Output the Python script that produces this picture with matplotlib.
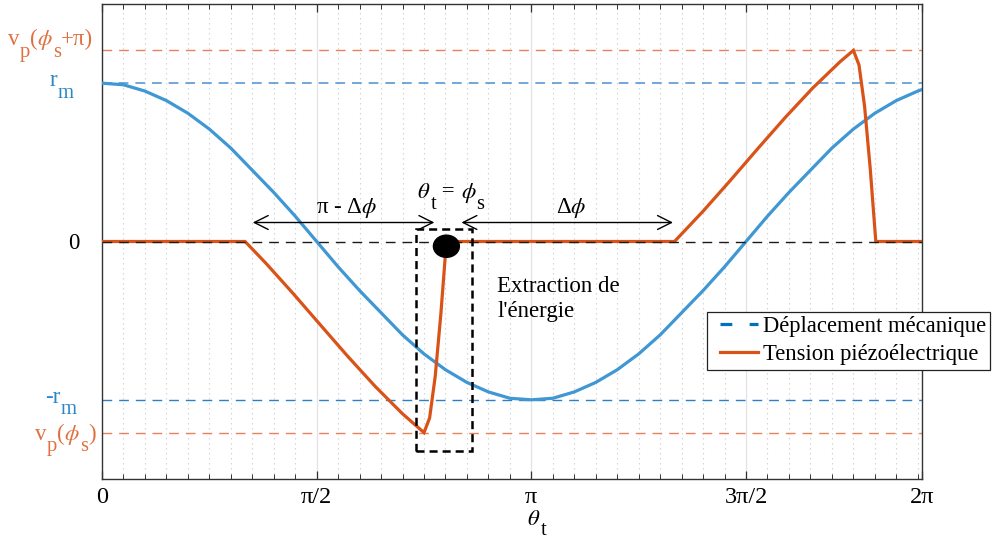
import numpy as np
import matplotlib
matplotlib.use("Agg")
import matplotlib.pyplot as plt
from matplotlib.patches import Rectangle, Ellipse, FancyArrowPatch
from matplotlib.lines import Line2D
from matplotlib.transforms import offset_copy

plt.rcParams['font.family'] = ['Liberation Serif', 'DejaVu Serif']
plt.rcParams['mathtext.fontset'] = 'stix'
plt.rcParams['lines.scale_dashes'] = False

# ---------------- data (units of r_m, x in rad) ----------------
theta_disp = np.append(np.arange(39) * np.pi / 20, 6.0)
disp = [1.00, 0.99, 0.95, 0.89, 0.81, 0.71, 0.59, 0.45, 0.31, 0.16,
        0.00, -0.16, -0.31, -0.45, -0.59, -0.71, -0.81, -0.89, -0.95, -0.99,
        -1.00, -0.99, -0.95, -0.89, -0.81, -0.71, -0.59, -0.45, -0.31, -0.16,
        0.00, 0.16, 0.31, 0.45, 0.59, 0.71, 0.81, 0.89, 0.95, 0.96]

theta_volt = [0.0, 1.047, 1.2, 1.4, 1.6, 1.8, 2.0, 2.2, 2.356,
              2.397, 2.438, 2.479, 2.52,
              4.189, 4.4, 4.6, 4.8, 5.0, 5.2, 5.4, 5.498,
              5.539, 5.580, 5.621, 5.662, 6.0]
volt = [0.0, 0.0, -0.138, -0.330, -0.529, -0.727, -0.916, -1.089, -1.207,
        -1.115, -0.853, -0.462, 0.0,
        0.0, 0.193, 0.388, 0.588, 0.784, 0.969, 1.135, 1.207,
        1.115, 0.853, 0.462, 0.0, 0.0]

rm = 1.0
vp = 1.207
ref_levels = [vp, rm, 0.0, -rm, -vp]
ref_labels = [[('v', 0), ('p', 1), ('(', 0), (r'$\phi$', 0), ('s', 1), ('+π)', 0)],
              [('r', 0), ('m', 1)],
              [('0', 0)],
              [('-r', 0), ('m', 1)],
              [('v', 0), ('p', 1), ('(', 0), (r'$\phi$', 0), ('s', 1), (')', 0)]]

xtick_pos = [0, np.pi / 2, np.pi, 3 * np.pi / 2, 6.0]
xtick_labels = ['0', 'π/2', 'π', '3π/2', '2π']
legend_labels = ['Déplacement mécanique', 'Tension piézoélectrique']

extract_end = 2.52

# colors
BLUE = '#3f97d3'
BLUE_D = '#0072BD'
ORANGE = '#D95319'
ORANGE_L = '#E8825A'
FS = 16.5

fig = plt.figure(figsize=(9.92, 5.4), dpi=100)
ax = fig.add_axes([102 / 992, 1 - 479 / 540, 820 / 992, 475 / 540])
ax.set_xlim(0, 6.0)
ax.set_ylim(-1.5, 1.5)
renderer = fig.canvas.get_renderer()


def rich(x, y, parts, transform, fontsize=FS, color='black', sub_scale=0.9, sub_drop=0.5):
    """Draw text pieces left to right from (x, y) baseline, with low subscripts."""
    dx = 0.0
    for s, sub in parts:
        fs = fontsize * sub_scale if sub else fontsize
        dy = -sub_drop * fontsize * fig.dpi / 72 if sub else 0.0
        t = ax.text(x, y, s, fontsize=fs, color=color, ha='left', va='baseline',
                    transform=offset_copy(transform, fig=fig, x=dx, y=dy, units='dots'),
                    zorder=8, clip_on=False)
        dx += t.get_window_extent(renderer).width
    return dx


# grid
for k in range(1, 39):
    xv = k * np.pi / 20
    if k % 10 == 0:
        ax.axvline(xv, color='#e3e3e3', lw=0.9, zorder=0)
    else:
        ax.axvline(xv, color='#d2d2d2', lw=0.8, ls=(0, (1.0, 2.6)), zorder=0)

# reference lines
ax.axhline(vp, color=ORANGE_L, lw=1.0, dashes=(7, 5), zorder=1)
ax.axhline(-vp, color=ORANGE_L, lw=1.0, dashes=(7, 5), zorder=1)
ax.axhline(rm, color='#4a90d0', lw=1.1, dashes=(7, 5), zorder=1)
ax.axhline(-rm, color='#2f7fc4', lw=1.0, dashes=(7, 5), zorder=1)

# curves
ax.plot(theta_disp, disp, color=BLUE, lw=2.3, zorder=3)
ax.plot(theta_volt, volt, color=ORANGE, lw=2.3, zorder=4, solid_joinstyle='miter')
ax.axhline(0, color='#1a1a1a', lw=1.0, dashes=(7, 5), zorder=5)

# extraction box and dot
ax.add_patch(Rectangle((2.30, -1.32), 0.41, 1.40, fill=False, ec='black', lw=1.8,
                       ls=(0, (5.8, 3.6)), zorder=6))
ax.add_patch(Ellipse((extract_end, -0.03), 0.19, 0.14, color='black', zorder=7))

# arrows
for x0, x1 in [(1.103, 2.432), (2.63, 4.178)]:
    ax.add_patch(FancyArrowPatch((x0, 0.12), (x1, 0.12),
                                 arrowstyle='<->,head_length=0.5,head_width=0.25',
                                 mutation_scale=20, color='black', lw=1.0, zorder=6,
                                 shrinkA=0, shrinkB=0))

ax.text(1.79, 0.177, r'π - Δ$\phi$', fontsize=FS, ha='center', va='baseline', zorder=8)
ax.text(3.433, 0.183, r'Δ$\phi$', fontsize=FS, ha='center', va='baseline', zorder=8)
rich(2.308, 0.272, [(r'$\theta$', 0), ('t', 1), (' = ', 0), (r'$\phi$', 0), ('s', 1)],
     ax.transData, sub_drop=0.45)
ax.text(2.893, -0.316, "Extraction de", fontsize=FS, ha='left', va='baseline', zorder=8)
ax.text(2.893, -0.474, "l'énergie", fontsize=FS, ha='left', va='baseline', zorder=8)

# y labels (left edge in px, baseline in data units)
ylab_left = [8, 50, 68, 45, 35]
ylab_base = [1.238, 0.979, -0.05, -1.017, -1.251]
ylab_col = ['#E0703F', '#2a86c8', 'black', '#2a86c8', '#E0703F']
ytr = ax.get_yaxis_transform()
for parts, lx, by, col in zip(ref_labels, ylab_left, ylab_base, ylab_col):
    rich((lx - 102) / 820, by, parts, ytr, color=col)
ax.set_yticks([])

# x ticks
ax.set_xticks(xtick_pos)
ax.set_xticklabels(xtick_labels, fontsize=17.5)
ax.set_xticks([k * np.pi / 20 for k in range(39)], minor=True)
ax.tick_params(axis='x', which='both', direction='in', top=True, bottom=True, colors='#333333',
               labelcolor='black')
ax.tick_params(axis='x', which='major', length=6, width=0.9, pad=6)
ax.tick_params(axis='x', which='minor', length=3.5, width=0.7)
rich((527 - 102) / 820, -0.097, [(r'$\theta$', 0), ('t', 1)], ax.transAxes, sub_drop=0.45)

for s in ax.spines.values():
    s.set_color('#333333')
    s.set_linewidth(1.0)

# legend with a separately drawn frame
fig.add_artist(Rectangle((707 / 992, 1 - 370 / 540), 283 / 992, 58 / 540,
                         transform=fig.transFigure, facecolor='white', edgecolor='#222222',
                         lw=0.9, zorder=4))
handles = [Line2D([], [], color=BLUE_D, lw=2.3, dashes=(8.5, 12.5)),
           Line2D([], [], color=ORANGE, lw=2.3)]
leg = fig.legend(handles, legend_labels,
                 loc='upper left', bbox_to_anchor=(720 / 992, 1 - 316 / 540),
                 bbox_transform=fig.transFigure, fontsize=16.3, frameon=False,
                 handlelength=1.7, handletextpad=0.2,
                 labelspacing=0.3, borderpad=0, borderaxespad=0)
leg.set_zorder(5)

fig.savefig('out.png', dpi=100)
